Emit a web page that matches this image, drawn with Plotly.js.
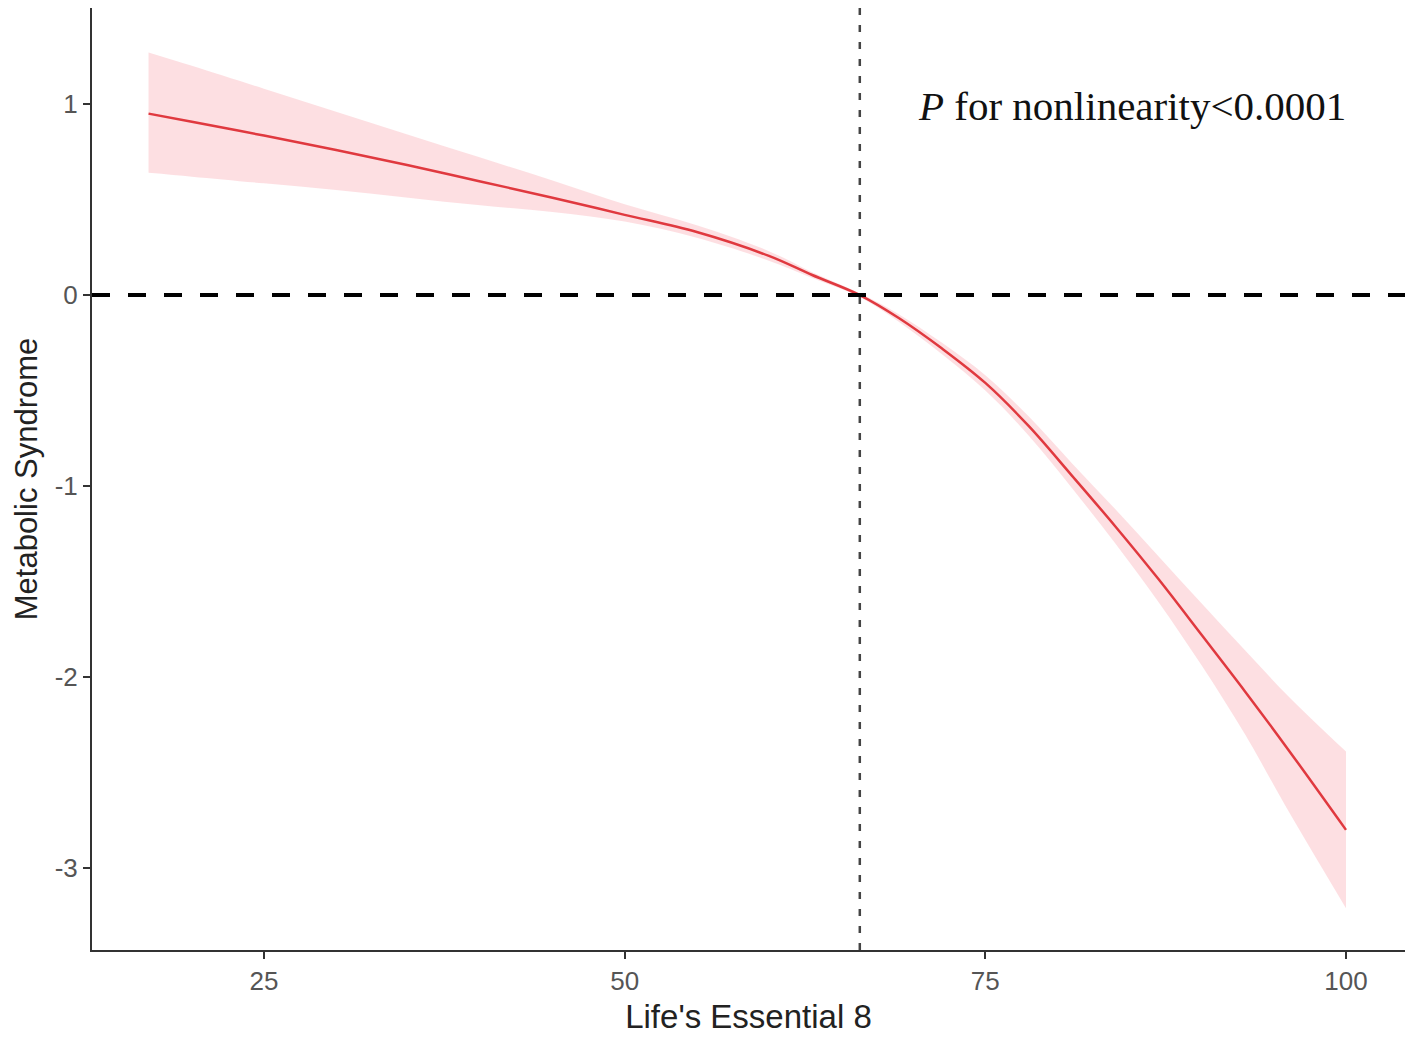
<!DOCTYPE html>
<html>
<head>
<meta charset="utf-8">
<script src="https://cdn.plot.ly/plotly-3.0.1.min.js"></script>
<style>
  html, body { margin: 0; padding: 0; background: #fff; }
  #chart { width: 1418px; height: 1041px; }
</style>
</head>
<body>
<div id="chart"></div>
<script>
// Life's Essential 8 score vs. Metabolic Syndrome (RCS curve, 95% CI)
const le8 = [17, 20, 25, 30, 35, 40, 45, 50, 55, 60, 63, 66.3, 69, 72, 75, 78, 81, 84, 87, 90, 93, 96, 100];
const estimate = [0.95, 0.907, 0.835, 0.76, 0.68, 0.595, 0.51, 0.42, 0.33, 0.205, 0.105, 0.0,
  -0.12, -0.28, -0.46, -0.685, -0.945, -1.21, -1.487, -1.78, -2.075, -2.38, -2.80];
const upper = [1.27, 1.20, 1.08, 0.96, 0.84, 0.72, 0.60, 0.475, 0.365, 0.23, 0.12, 0.01,
  -0.10, -0.25, -0.42, -0.635, -0.88, -1.12, -1.367, -1.615, -1.86, -2.10, -2.39];
const lower = [0.64, 0.62, 0.585, 0.55, 0.51, 0.47, 0.435, 0.385, 0.30, 0.18, 0.09, -0.01,
  -0.14, -0.31, -0.50, -0.735, -1.01, -1.30, -1.607, -1.94, -2.30, -2.70, -3.21];

const cutoffX = 66.3;   // vertical reference (dotted)
const nullY = 0;        // horizontal reference (dashed)
const xTicks = [25, 50, 75, 100];
const yTicks = [-3, -2, -1, 0, 1];
const pLabel = '<i>P</i> for nonlinearity<0.0001';
const pPos = [85.2, 0.99];

const traces = [
  { x: le8, y: lower, mode: 'lines', line: { width: 0, shape: 'spline' }, hoverinfo: 'skip', showlegend: false },
  { x: le8, y: upper, mode: 'lines', line: { width: 0, shape: 'spline' }, fill: 'tonexty',
    fillcolor: 'rgba(248,150,160,0.3)', hoverinfo: 'skip', showlegend: false },
  { x: le8, y: estimate, mode: 'lines', line: { color: '#e0393f', width: 2.5, shape: 'spline' },
    showlegend: false }
];

const axisCommon = {
  showgrid: false, zeroline: false,
  showline: true, linecolor: '#333', linewidth: 2,
  ticks: 'outside', ticklen: 7, tickwidth: 2, tickcolor: '#333',
  tickfont: { family: 'Liberation Sans, Arial, sans-serif', size: 26, color: '#555' }
};

const layout = {
  width: 1418, height: 1041,
  margin: { l: 92, r: 13, t: 8, b: 91 },
  paper_bgcolor: '#fff', plot_bgcolor: '#fff',
  xaxis: Object.assign({}, axisCommon, {
    range: [13.08, 104.09], tickvals: xTicks, ticktext: xTicks.map(String),
    title: { text: "Life's Essential 8", standoff: 10,
      font: { family: 'Liberation Sans, Arial, sans-serif', size: 33, color: '#222' } }
  }),
  yaxis: Object.assign({}, axisCommon, {
    range: [-3.429, 1.503], tickvals: yTicks, ticktext: yTicks.map(String),
    title: { text: 'Metabolic Syndrome', standoff: 8,
      font: { family: 'Liberation Sans, Arial, sans-serif', size: 31, color: '#222' } }
  }),
  shapes: [
    { type: 'line', xref: 'paper', x0: 0, x1: 1, yref: 'y', y0: nullY, y1: nullY,
      line: { color: '#000', width: 4, dash: '18px,18px' } },
    { type: 'line', xref: 'x', x0: cutoffX, x1: cutoffX, yref: 'paper', y0: 0, y1: 1,
      line: { color: '#444', width: 2.5, dash: '7px,10px' } }
  ],
  annotations: [
    { x: pPos[0], y: pPos[1], xref: 'x', yref: 'y', text: pLabel, showarrow: false,
      font: { family: 'Liberation Serif, Times New Roman, serif', size: 41, color: '#111' } }
  ]
};

Plotly.newPlot('chart', traces, layout, { displayModeBar: false, staticPlot: true });
</script>
</body>
</html>
